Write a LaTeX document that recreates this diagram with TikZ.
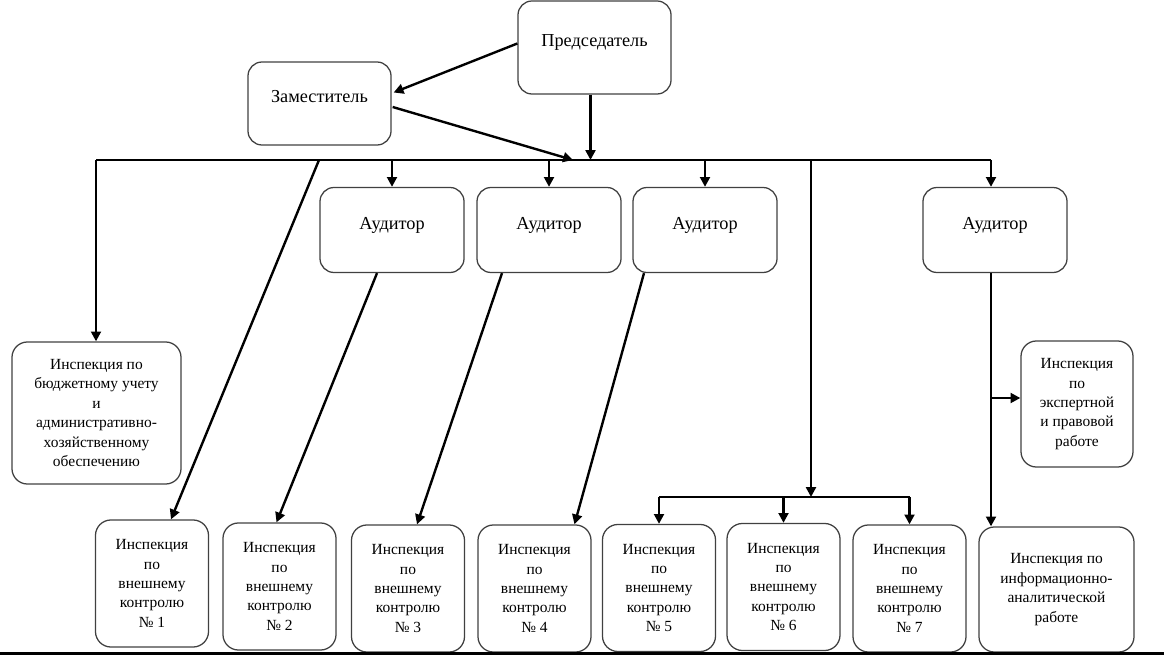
\documentclass[tikz,border=0pt]{standalone}
\usepackage{fontspec}
\setmainfont{Liberation Serif}
\usetikzlibrary{arrows.meta,calc}

\tikzset{
  box/.style={draw=black!75, line width=0.9pt, rounded corners=11pt, align=center,
    inner sep=0pt, font=\fontsize{11}{13.8}\selectfont},
  bigbox/.style={box, rounded corners=10pt, font=\fontsize{13}{15}\selectfont, text depth=10pt},
  arr/.style={line width=1.7pt, -{Triangle[length=7pt,width=7pt]}},
  bus/.style={line width=1.7pt}
}

\begin{document}
\begin{tikzpicture}[x=0.025cm,y=-0.025cm]
  \useasboundingbox (0,0) rectangle (1164,655);
  % heads
  \node[bigbox, minimum width=3.825cm, minimum height=2.325cm] (pres) at (594.5,47.5) {Председатель};
  \node[bigbox, minimum width=3.575cm, minimum height=2.075cm] (zam) at (319.5,103.5) {Заместитель};
  % auditors
  \foreach \n/\x in {a1/392,a2/549,a3/705,a4/995}{
    \node[bigbox, minimum width=3.6cm, minimum height=2.125cm] (\n) at (\x,230) {Аудитор};
  }
  % inspections
  \node[box, minimum width=4.225cm, minimum height=3.55cm] (bud) at (96.5,413)
    {Инспекция по\\бюджетному учету\\и\\административно-\\хозяйственному\\обеспечению};
  \node[box, minimum width=2.8cm, minimum height=3.15cm] (exp) at (1077,404)
    {Инспекция\\по\\экспертной\\и правовой\\работе};
  \node[box, minimum width=3.875cm, minimum height=3.125cm] (info) at (1056.5,589.5)
    {Инспекция по\\информационно-\\аналитической\\работе};
  \foreach \n/\x/\y/\k in {i1/152/583.5/1,i2/279.5/586.5/2,i3/408/588.5/3,i4/534.5/588.5/4,
                           i5/659/588/5,i6/783.5/587/6,i7/909.5/588.5/7}{
    \node[box, minimum width=2.825cm, minimum height=3.175cm] (\n) at (\x,\y)
      {Инспекция\\по\\внешнему\\контролю\\№~\k};
  }
  % bus lines
  \coordinate (busL) at (96,160);
  \coordinate (busR) at (991,160);
  \coordinate (zhit) at (573,160);
  \coordinate (d1) at (319,160);
  \coordinate (mid) at (811,160);
  \coordinate (bus2) at (811,497);
  \coordinate (ebr) at (991,398);
  \coordinate (pdrop) at ($(pres.south)+(-4,0)$);
  \draw[bus] (busL) -- (busR);
  \draw[bus] (i5.north |- bus2) -- (i7.north |- bus2);
  % connectors
  \draw[arr] ($(pres.west)+(0,-4)$) -- ($(zam.east)+(2,-11)$);
  \draw[arr] ($(zam.east)+(1,3.5)$) -- (zhit);
  \draw[arr] (pdrop) -- (pdrop |- busL);
  \draw[arr] (busL) -- (busL |- bud.north);
  \foreach \n in {a1,a2,a3}
    \draw[arr] (\n.north |- busL) -- (\n.north);
  \draw[arr] (busR) -- (busR |- a4.north);
  \draw[arr] (mid) -- (bus2);
  \foreach \n in {i5,i6,i7}
    \draw[arr] (\n.north |- bus2) -- (\n.north);
  \draw[arr] (d1) -- ($(i1.north)+(19,0)$);
  \draw[arr] ($(a1.south)+(-15,0)$) -- ($(i2.north)+(-3,0)$);
  \draw[arr] ($(a2.south)+(-47,0)$) -- ($(i3.north)+(9,0)$);
  \draw[arr] ($(a3.south)+(-61,0)$) -- ($(i4.north)+(40,0)$);
  \draw[arr] (busR |- a4.south) -- (busR |- info.north);
  \draw[arr] (ebr) -- (ebr -| exp.west);
  % bottom rule
  \draw[line width=1.5pt] (0,653.5) -- (1164,653.5);
\end{tikzpicture}
\end{document}
